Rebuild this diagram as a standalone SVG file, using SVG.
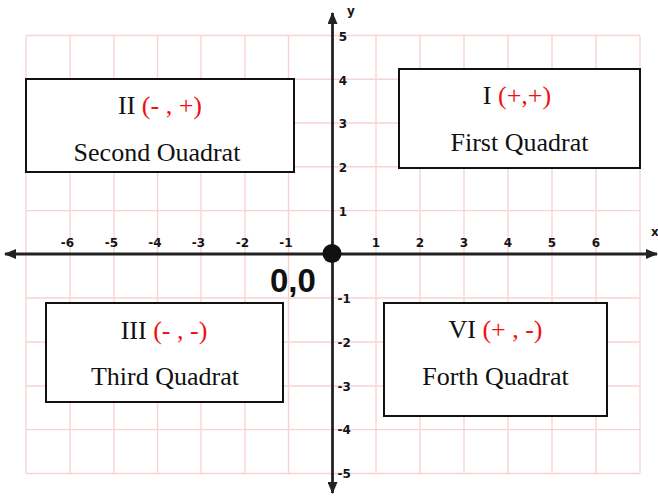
<svg xmlns="http://www.w3.org/2000/svg" width="658" height="497" viewBox="0 0 658 497">
<style>
.grid line{stroke:#f9d3d3;stroke-width:1.4}
.axis{stroke:#222;stroke-width:2.8;fill:none}
.tick{font-family:"DejaVu Sans",Verdana,sans-serif;font-weight:bold;font-size:12px;fill:#151515}
.box{fill:#fff;stroke:#111;stroke-width:2}
.lbl{font-family:"Liberation Serif","Times New Roman",serif;font-size:26px;fill:#111;text-anchor:middle}
.red{fill:#f01010}
</style>
<defs>
<marker id="arr" viewBox="0 0 12 10" refX="11" refY="5" markerWidth="12" markerHeight="10" markerUnits="userSpaceOnUse" orient="auto">
<path d="M0,0 L12,5 L0,10 z" fill="#222"/>
</marker>
</defs>
<rect width="658" height="497" fill="#fff"/>
<g class="grid">
<line x1="26" y1="35.5" x2="26" y2="473.5"/>
<line x1="70" y1="35.5" x2="70" y2="473.5"/>
<line x1="114" y1="35.5" x2="114" y2="473.5"/>
<line x1="157.5" y1="35.5" x2="157.5" y2="473.5"/>
<line x1="201" y1="35.5" x2="201" y2="473.5"/>
<line x1="245" y1="35.5" x2="245" y2="473.5"/>
<line x1="288.5" y1="35.5" x2="288.5" y2="473.5"/>
<line x1="376" y1="35.5" x2="376" y2="473.5"/>
<line x1="420" y1="35.5" x2="420" y2="473.5"/>
<line x1="464" y1="35.5" x2="464" y2="473.5"/>
<line x1="508" y1="35.5" x2="508" y2="473.5"/>
<line x1="552" y1="35.5" x2="552" y2="473.5"/>
<line x1="596" y1="35.5" x2="596" y2="473.5"/>
<line x1="640" y1="35.5" x2="640" y2="473.5"/>
<line x1="26" y1="35.5" x2="640" y2="35.5"/>
<line x1="26" y1="79.3" x2="640" y2="79.3"/>
<line x1="26" y1="123" x2="640" y2="123"/>
<line x1="26" y1="166.8" x2="640" y2="166.8"/>
<line x1="26" y1="210.6" x2="640" y2="210.6"/>
<line x1="26" y1="298" x2="640" y2="298"/>
<line x1="26" y1="342" x2="640" y2="342"/>
<line x1="26" y1="386" x2="640" y2="386"/>
<line x1="26" y1="429.6" x2="640" y2="429.6"/>
<line x1="26" y1="473.5" x2="640" y2="473.5"/>
</g>
<g id="connectors">
<line class="axis" x1="332.5" y1="254" x2="332.5" y2="13" marker-end="url(#arr)"/>
<line class="axis" x1="332.5" y1="254" x2="332.5" y2="493" marker-end="url(#arr)"/>
<line class="axis" x1="330" y1="254" x2="5" y2="254" marker-end="url(#arr)"/>
<line class="axis" x1="330" y1="254" x2="657" y2="254" marker-end="url(#arr)"/>
</g>
<g id="ticks">
<text class="tick" x="74" y="247" text-anchor="end">-6</text>
<text class="tick" x="118" y="247" text-anchor="end">-5</text>
<text class="tick" x="161.5" y="247" text-anchor="end">-4</text>
<text class="tick" x="205" y="247" text-anchor="end">-3</text>
<text class="tick" x="249" y="247" text-anchor="end">-2</text>
<text class="tick" x="292.5" y="247" text-anchor="end">-1</text>
<text class="tick" x="376" y="247" text-anchor="middle">1</text>
<text class="tick" x="420" y="247" text-anchor="middle">2</text>
<text class="tick" x="464" y="247" text-anchor="middle">3</text>
<text class="tick" x="508" y="247" text-anchor="middle">4</text>
<text class="tick" x="552" y="247" text-anchor="middle">5</text>
<text class="tick" x="596" y="247" text-anchor="middle">6</text>
<text class="tick" x="343" y="40.5" text-anchor="middle">5</text>
<text class="tick" x="343" y="84.5" text-anchor="middle">4</text>
<text class="tick" x="343" y="128" text-anchor="middle">3</text>
<text class="tick" x="343" y="172" text-anchor="middle">2</text>
<text class="tick" x="343" y="215.5" text-anchor="middle">1</text>
<text class="tick" x="337.5" y="302.5">-1</text>
<text class="tick" x="337.5" y="347">-2</text>
<text class="tick" x="337.5" y="390.5">-3</text>
<text class="tick" x="337.5" y="434">-4</text>
<text class="tick" x="337.5" y="477.5">-5</text>
<text class="tick" x="351" y="15" text-anchor="middle" font-size="15">y</text>
<text class="tick" x="651" y="236" font-size="14">x</text>
</g>
<g id="origin">
<circle cx="332" cy="253.5" r="9.5" fill="#111"/>
<text x="270" y="292" font-family="'Liberation Sans',Arial,sans-serif" font-weight="bold" font-size="33" fill="#111">0,0</text>
</g>
<g id="quadrant-II">
<rect class="box" x="26" y="79" width="268" height="93"/>
<text class="lbl" x="160" y="114">II <tspan class="red">(- , +)</tspan></text>
<text class="lbl" x="157" y="161">Second Ouadrat</text>
</g>
<g id="quadrant-I">
<rect class="box" x="399" y="69" width="241" height="99"/>
<text class="lbl" x="517" y="104">I <tspan class="red">(+,+)</tspan></text>
<text class="lbl" x="519.5" y="151">First Quadrat</text>
</g>
<g id="quadrant-III">
<rect class="box" x="46" y="303" width="237" height="99"/>
<text class="lbl" x="164" y="339">III <tspan class="red">(- , -)</tspan></text>
<text class="lbl" x="165" y="385">Third Quadrat</text>
</g>
<g id="quadrant-IV">
<rect class="box" x="384" y="303" width="223" height="113"/>
<text class="lbl" x="495.5" y="338">VI <tspan class="red">(+ , -)</tspan></text>
<text class="lbl" x="495.5" y="385">Forth Quadrat</text>
</g>
</svg>
